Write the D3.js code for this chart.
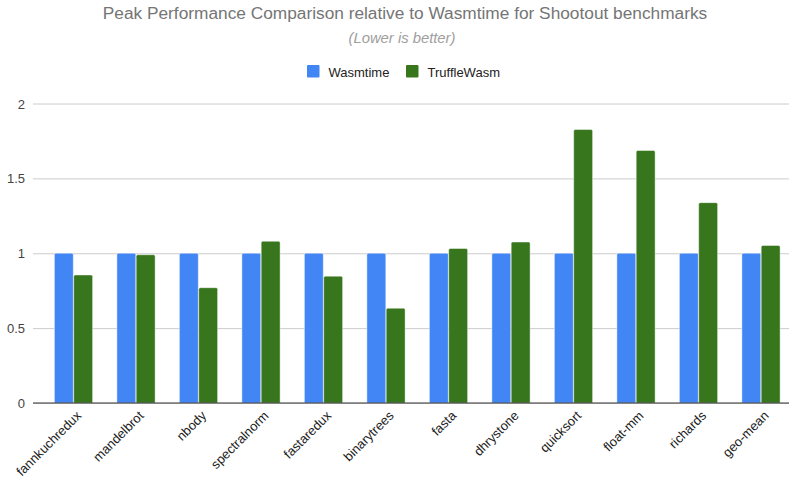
<!DOCTYPE html>
<html><head><meta charset="utf-8">
<script src="https://cdn.jsdelivr.net/npm/d3@7"></script>
<style>body{margin:0;background:#fff;} svg{display:block;font-family:"Liberation Sans",Arial,sans-serif;}</style>
</head><body>
<svg id="chart" width="789" height="478"></svg>
<script>
const categories = ["fannkuchredux","mandelbrot","nbody","spectralnorm","fastaredux","binarytrees","fasta","dhrystone","quicksort","float-mm","richards","geo-mean"];
const seriesNames = ["Wasmtime","TruffleWasm"];
const wasmtime = [1,1,1,1,1,1,1,1,1,1,1,1];
const truffleWasm = [0.855,0.99,0.77,1.08,0.847,0.633,1.032,1.075,1.826,1.686,1.338,1.052];
const yTicks = [0,0.5,1,1.5,2];
const colors = ["#4285F4","#38761D"];

const svg = d3.select("#chart");
const W = 789, H = 478;
const gridLeft = 33, gridRight = 789;
const x = d3.scaleBand().domain(categories).range([42.25, 792.25]).paddingInner(0.376).paddingOuter(0.188);
const x1 = d3.scaleBand().domain(seriesNames).range([0, x.bandwidth()]).padding(0.02);
const y = d3.scaleLinear().domain([0,2]).range([403, 103.5]);

// title
svg.append("text").attr("x", 405).attr("y", 19).attr("text-anchor","middle")
  .attr("font-size",17.3).attr("fill","#757575").text("Peak Performance Comparison relative to Wasmtime for Shootout benchmarks");
svg.append("text").attr("x", 402).attr("y", 43).attr("text-anchor","middle")
  .attr("font-size",14.8).attr("font-style","italic").attr("fill","#9e9e9e").text("(Lower is better)");

// legend
const leg = svg.append("g");
const legItems = [{name:seriesNames[0], x:307},{name:seriesNames[1], x:406}];
legItems.forEach((d,i)=>{
  leg.append("rect").attr("x", d.x).attr("y", 65).attr("width",12.5).attr("height",12.5).attr("rx",1).attr("fill",colors[i]);
  leg.append("text").attr("x", d.x+21.5).attr("y", 76.5).attr("font-size",13).attr("fill","#222").text(d.name);
});

// grid
const ga = svg.append("g").attr("transform",`translate(${gridLeft},0)`)
  .call(d3.axisLeft(y).tickValues(yTicks).tickSize(-(gridRight - gridLeft)).tickFormat(d3.format("~g")));
ga.select(".domain").remove();
ga.selectAll(".tick line").attr("stroke","#cccccc").attr("stroke-width",1);
ga.selectAll(".tick text").attr("x",-8).attr("font-size",13).attr("fill","#444").attr("font-family","Liberation Sans,Arial,sans-serif").attr("dy","0.35em");

// bars
const data = categories.map((c,i)=>({c, vals:[wasmtime[i], truffleWasm[i]]}));
const g = svg.append("g");
data.forEach(d=>{
  d.vals.forEach((v,j)=>{
    const x0 = x(d.c) + x1(seriesNames[j]);
    const w = x1.bandwidth();
    const yt = y(v), yb = y(0), r = 1.5;
    g.append("path")
      .attr("d", `M${x0},${yb}V${yt+r}Q${x0},${yt} ${x0+r},${yt}H${x0+w-r}Q${x0+w},${yt} ${x0+w},${yt+r}V${yb}Z`)
      .attr("fill", colors[j]).attr("stroke","rgba(255,255,255,0.45)").attr("stroke-width",1);
  });
});

// baseline
svg.append("line").attr("x1",gridLeft).attr("x2",gridRight).attr("y1",y(0)).attr("y2",y(0)).attr("stroke","#333").attr("stroke-width",1);

// x labels
const xa = svg.append("g").attr("transform",`translate(0,${y(0)})`).call(d3.axisBottom(x).tickSize(0));
xa.select(".domain").remove();
xa.selectAll(".tick text")
  .attr("font-size",13).attr("fill","#222").attr("font-family","Liberation Sans,Arial,sans-serif")
  .attr("text-anchor","end").attr("dy",0).attr("y",0)
  .attr("transform","translate(8.5,13.5) rotate(-45)");
</script>
</body></html>
